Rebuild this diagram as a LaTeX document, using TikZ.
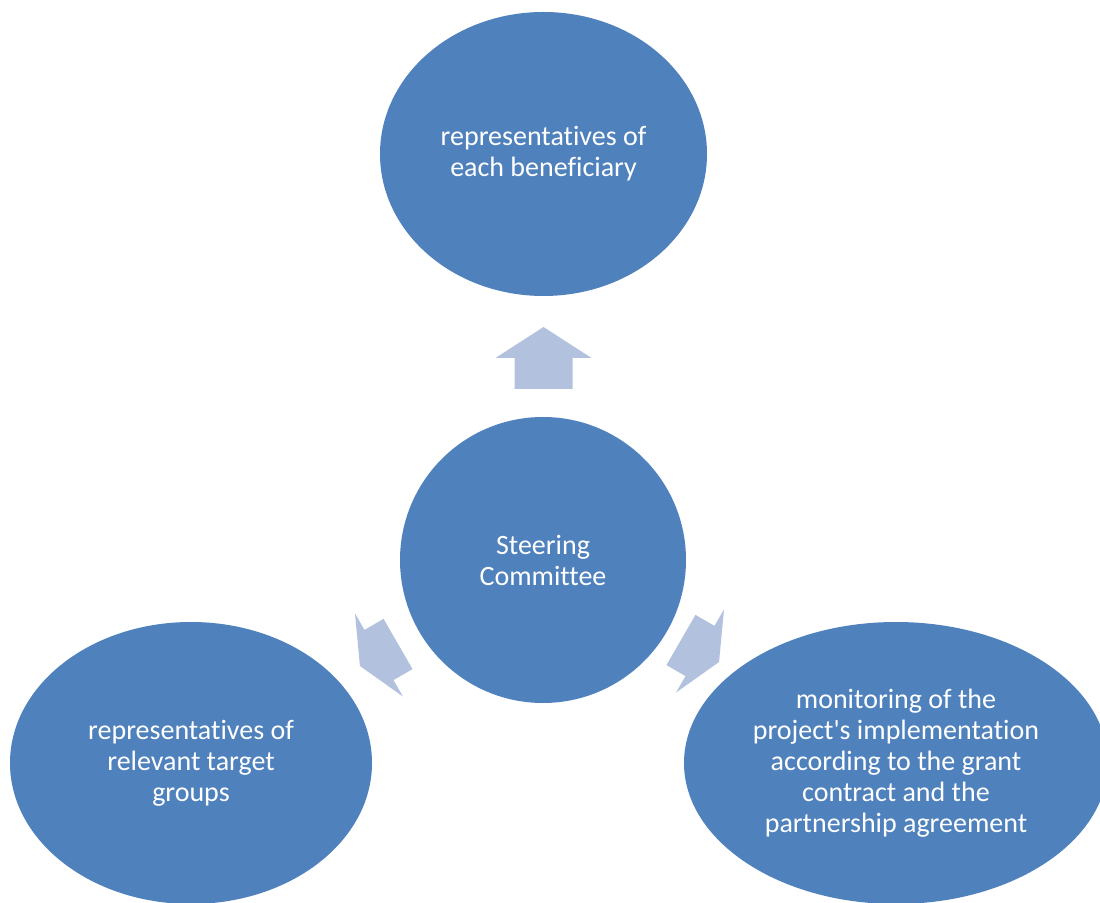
\documentclass[tikz,border=0pt]{standalone}
\usepackage{fontspec}
\setmainfont{Carlito}[Ligatures={NoCommon}]
\usetikzlibrary{shapes.geometric}
\definecolor{bluefill}{HTML}{4F81BD}
\definecolor{arrowfill}{HTML}{B2C2DE}
\tikzset{
  bubble/.style={ellipse, fill=bluefill, draw=none, inner sep=0pt, text=white,
    align=center, font=\fontsize{28}{31}\selectfont},
  barrow/.pic={\fill[arrowfill] (-#1,-29) -- (0,-29) -- (0,-48) -- (#1,0) -- (0,48) -- (0,29) -- (-#1,29) -- cycle;}
}
\begin{document}
\begin{tikzpicture}[x=1pt,y=1pt]
\useasboundingbox (0,0) rectangle (1100,902);
\clip (0,0) rectangle (1100,902);
\node[bubble, minimum width=327pt, minimum height=284pt] (top) at (543.5,748) {representatives of\\each beneficiary};
\node[bubble, minimum width=286pt, minimum height=286pt] (center) at (543,342) {Steering\\Committee};
\node[bubble, minimum width=362pt, minimum height=282pt] (left) at (191,139) {representatives of\\relevant target\\groups};
\node[bubble, minimum width=424pt, minimum height=282pt] (right) at (896,139) {monitoring of the\\project\textquotesingle s implementation\\according to the grant\\contract and the\\partnership agreement};
\coordinate (aup) at (543.5,544);
\coordinate (aleft) at (379,247);
\coordinate (aright) at (700,251);
\pic[rotate=90] at (aup) {barrow=31};
\pic[rotate=210] at (aleft) {barrow=22};
\pic[rotate=-30] at (aright) {barrow=22};
\end{tikzpicture}
\end{document}
